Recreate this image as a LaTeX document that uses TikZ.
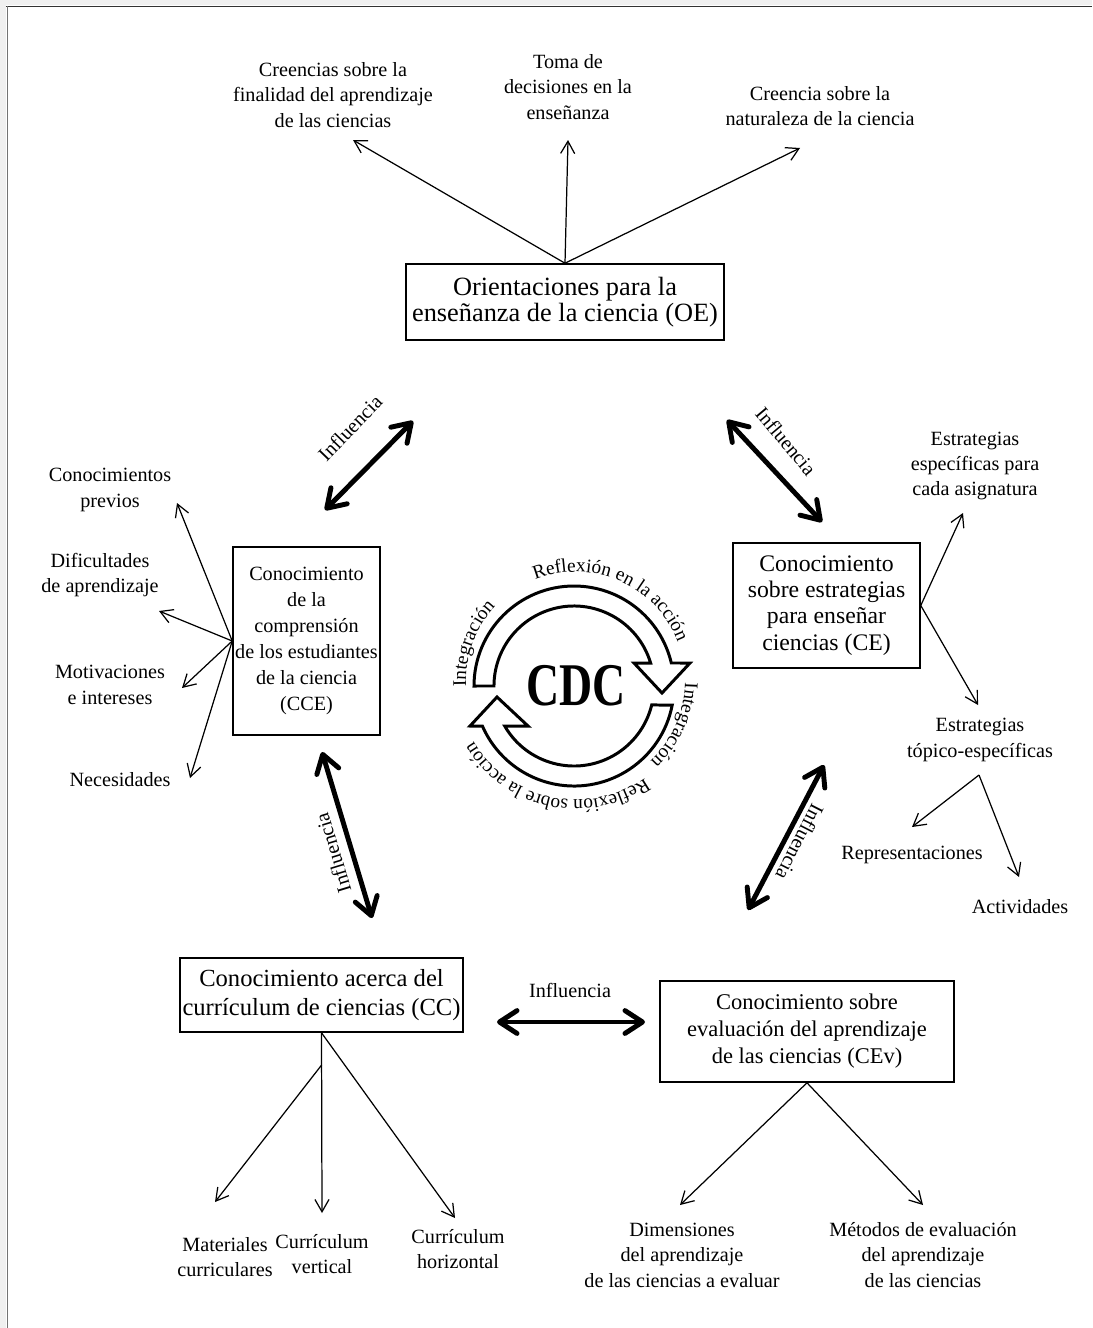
\documentclass[tikz,border=0pt]{standalone}
\usepackage{fontspec}
\setmainfont{Liberation Serif}
\usepackage{graphicx}
\usetikzlibrary{arrows.meta,decorations.text}

\newcommand{\lblsize}{\fontsize{11.5}{14.5}\selectfont}
\newcommand{\ringsize}{\fontsize{11}{13}\selectfont}

\tikzset{
  box/.style={draw, line width=0.9pt, align=center, inner sep=1pt},
  lbl/.style={align=center, inner sep=1pt},
  thin arrow/.style={line width=0.7pt, -{Straight Barb[length=7pt,width=8pt]}},
  thick arrow/.style={line width=2.8pt, arrows={Straight Barb[length=10pt,width=13pt,round]-Straight Barb[length=10pt,width=13pt,round]}},
  cycle arrow/.style={draw, fill=white, line width=1.7pt, line join=miter},
  ring text/.style={decorate, decoration={text along path, text align=center}},
}

\begin{document}
\begin{tikzpicture}[x=0.02cm, y=-0.02cm, font=\lblsize]
  \useasboundingbox (0,0) rectangle (1092,1328);
  % frame
  \fill[black!6] (0,0) rectangle (1092,5);
  \fill[black!6] (0,0) rectangle (6,1328);
  \draw[black!80, line width=1.1pt] (6,6.5) -- (1092,6.5);
  \draw[black!55, line width=1.1pt] (7.5,6) -- (7.5,1328);

  % the five knowledge boxes
  \node[box, font=\fontsize{15}{14.7}\selectfont, minimum width=6.36cm, minimum height=1.52cm] (OE) at (565,302) {Orientaciones para la\\enseñanza de la ciencia (OE)};
  \node[box, font=\fontsize{11.5}{14.7}\selectfont, minimum width=2.94cm, minimum height=3.76cm] (CCE) at (306.5,641) {Conocimiento\\de la\\comprensión\\de los estudiantes\\de la ciencia\\(CCE)};
  \node[box, font=\fontsize{13.5}{14.9}\selectfont, minimum width=3.74cm, minimum height=2.5cm] (CE) at (826.5,605.5) {Conocimiento\\sobre estrategias\\para enseñar\\ciencias (CE)};
  \node[box, font=\fontsize{14}{16.2}\selectfont, minimum width=5.66cm, minimum height=1.48cm] (CC) at (321.5,995) {Conocimiento acerca del\\currículum de ciencias (CC)};
  \node[box, font=\fontsize{12.8}{15.4}\selectfont, minimum width=5.88cm, minimum height=2.02cm] (CEv) at (807,1031.5) {Conocimiento sobre\\evaluación del aprendizaje\\de las ciencias (CEv)};

  % OE branches
  \node[lbl] (cre) at (333,95) {Creencias sobre la\\finalidad del aprendizaje\\de las ciencias};
  \node[lbl] (toma) at (568,87) {Toma de\\decisiones en la\\enseñanza};
  \node[lbl] (nat) at (820,106) {Creencia sobre la\\naturaleza de la ciencia};
  \coordinate (creTip) at (353,140);
  \coordinate (tomaTip) at (568,140);
  \coordinate (natTip) at (800,148);
  \draw[thin arrow] (OE.north) -- (creTip);
  \draw[thin arrow] (OE.north) -- (tomaTip);
  \draw[thin arrow] (OE.north) -- (natTip);

  % CCE branches
  \node[lbl] (prev) at (110,490) {Conocimientos\\previos};
  \node[lbl] (dif) at (100,575) {Dificultades\\de aprendizaje};
  \node[lbl] (mot) at (110,685) {Motivaciones\\e intereses};
  \node[lbl] (nec) at (120,780) {Necesidades};
  \coordinate (prevTip) at (177,503);
  \coordinate (difTip) at (159,611);
  \coordinate (motTip) at (182,688);
  \coordinate (necTip) at (190,778);
  \foreach \t in {prevTip,difTip,motTip,necTip}
    \draw[thin arrow] (CCE.west) -- (\t);

  % CE branches
  \node[lbl] (esp) at (975,466) {Estrategias\\específicas para\\cada asignatura};
  \node[lbl] (topic) at (980,740) {Estrategias\\tópico-específicas};
  \node[lbl] (rep) at (912,855) {Representaciones};
  \node[lbl] (act) at (1020,907) {Actividades};
  \coordinate (espTip) at (963,513);
  \coordinate (topicTip) at (978,705);
  \coordinate (topicFoot) at (979,775);
  \coordinate (repTip) at (912,827);
  \coordinate (actTip) at (1019,877);
  \draw[thin arrow] (CE.east) -- (espTip);
  \draw[thin arrow] (CE.east) -- (topicTip);
  \draw[thin arrow] (topicFoot) -- (repTip);
  \draw[thin arrow] (topicFoot) -- (actTip);

  % CC branches
  \node[lbl] (mat) at (225,1257) {Materiales\\curriculares};
  \node[lbl] (ver) at (322,1254) {Currículum\\vertical};
  \node[lbl] (hor) at (458,1249) {Currículum\\horizontal};
  \coordinate (ccFork) at (321.6,1065);
  \coordinate (matTip) at (215,1202);
  \coordinate (verTip) at (322,1213);
  \coordinate (horTip) at (455,1218);
  \draw[thin arrow] (CC.south) -- (verTip);
  \draw[thin arrow] (ccFork) -- (matTip);
  \draw[thin arrow] (CC.south) -- (horTip);

  % CEv branches
  \node[lbl] (dim) at (682,1255) {Dimensiones\\del aprendizaje\\de las ciencias a evaluar};
  \node[lbl] (met) at (923,1255) {Métodos de evaluación\\del aprendizaje\\de las ciencias};
  \coordinate (dimTip) at (680,1205);
  \coordinate (metTip) at (923,1205);
  \draw[thin arrow] (CEv.south) -- (dimTip);
  \draw[thin arrow] (CEv.south) -- (metTip);

  % influence arrows
  \coordinate (i1a) at (413,421);  \coordinate (i1b) at (325,510);
  \coordinate (i2a) at (727,420);  \coordinate (i2b) at (822,522);
  \coordinate (i3a) at (322,752);  \coordinate (i3b) at (372,918);
  \coordinate (i4a) at (824,765);  \coordinate (i4b) at (748,910);
  \coordinate (i5a) at (497,1022); \coordinate (i5b) at (645,1022);
  \draw[thick arrow] (i1a) -- (i1b);
  \draw[thick arrow] (i2a) -- (i2b);
  \draw[thick arrow] (i3a) -- (i3b);
  \draw[thick arrow] (i4a) -- (i4b);
  \draw[thick arrow] (i5a) -- (i5b);
  \node[rotate=46] (inf1) at (350,428) {Influencia};
  \node[rotate=-50] (inf2) at (786,441) {Influencia};
  \node[rotate=107] (inf3) at (333,853) {Influencia};
  \node[rotate=-117] (inf4) at (800,842) {Influencia};
  \node (inf5) at (570,990) {Influencia};

  % CDC cycle
  \coordinate (ringc) at (576,681);
  \draw[cycle arrow] (474,686) arc[start angle=180, end angle=346.7, radius=100]
    -- (690,663) -- (662,693) -- (634,663) -- (650.6,663)
    arc[start angle=343.3, end angle=180, radius=80] -- cycle;
  \draw[cycle arrow] (672.2,705.1) arc[start angle=11, end angle=156.4, radius=100]
    -- (470,726) -- (497,697) -- (528,726) -- (504.7,726)
    arc[start angle=150, end angle=13.7, radius=80] -- cycle;
  \node[font=\bfseries\fontsize{30}{30}\selectfont] (CDC) at (576,686) {\scalebox{0.87}[1.15]{CDC}};
  \path[ring text, decoration={text={|\ringsize|Reflexión en la acción}}]
    ([shift={(-136.5:109)}]ringc) arc[start angle=-136.5, end angle=3.5, radius=109];
  \path[ring text, decoration={text={|\ringsize|Integración}}]
    ([shift={(-230:110)}]ringc) arc[start angle=-230, end angle=-90, radius=110];
  \path[ring text, decoration={text={|\ringsize|Integración}}]
    ([shift={(-46:109)}]ringc) arc[start angle=-46, end angle=94, radius=109];
  \path[ring text, decoration={text={|\ringsize|Reflexión sobre la acción}}]
    ([shift={(32:119)}]ringc) arc[start angle=32, end angle=172, radius=119];
\end{tikzpicture}
\end{document}
